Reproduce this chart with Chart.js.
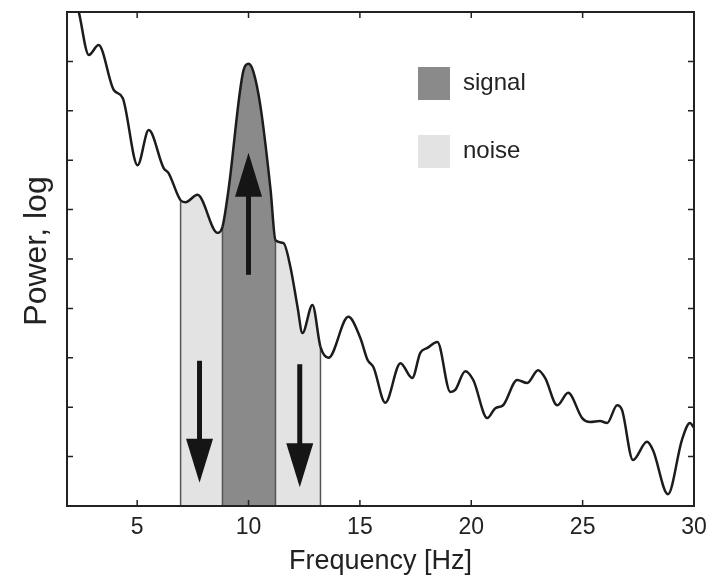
<!DOCTYPE html>
<html>
<head>
<meta charset="utf-8">
<script src="https://cdn.jsdelivr.net/npm/chart.js@4/dist/chart.umd.min.js"></script>
<style>
  html, body { margin: 0; padding: 0; background: #fff; }
  #wrap { width: 723px; height: 578px; }
</style>
</head>
<body>
<div id="wrap"><canvas id="psd" width="723" height="578"></canvas></div>
<script>
// spectrum (x in Hz, y in axis units 0..10, log power)
const freq = [1.85, 2.38, 2.83, 3.27, 3.95, 4.35, 5.02, 5.52, 6.19, 6.41, 6.95, 7.17, 7.71, 8.61, 8.83,
  9.10, 9.78, 10.0, 10.22, 10.54, 10.99, 11.21, 11.57, 11.88, 12.20, 12.42, 12.87, 13.23, 13.59,
  14.48, 15.02, 15.34, 15.61, 16.14, 16.82, 17.35, 17.71, 18.03, 18.48, 19.06, 19.28, 19.73, 20.09,
  20.72, 21.08, 21.43, 22.06, 22.51, 23.00, 23.32, 23.86, 24.35, 24.98, 25.34, 25.78, 26.10, 26.55,
  26.77, 27.26, 27.89, 28.16, 28.83, 29.46, 29.82, 30.0];
const power = [10.9, 10.0, 9.13, 9.33, 8.42, 8.26, 6.90, 7.61, 6.84, 6.74, 6.19, 6.15, 6.30, 5.53, 5.65,
  6.40, 8.83, 8.95, 8.79, 8.08, 6.40, 5.38, 5.32, 4.84, 4.03, 3.50, 4.07, 3.22, 3.00,
  3.83, 3.40, 2.96, 2.81, 2.09, 2.89, 2.59, 3.10, 3.20, 3.32, 2.31, 2.35, 2.73, 2.55,
  1.78, 1.98, 2.04, 2.55, 2.49, 2.75, 2.59, 2.04, 2.29, 1.78, 1.70, 1.72, 1.68, 2.04,
  1.94, 0.93, 1.30, 1.13, 0.24, 1.34, 1.68, 1.58];

const signalBand = [8.83, 11.21];
const noiseBands = [[6.95, 8.83], [11.21, 13.23]];
const xTicks = [5, 10, 15, 20, 25, 30];
const powerTicks = [1, 2, 3, 4, 5, 6, 7, 8, 9];
const legendLabels = ['signal', 'noise'];
const yTitle = 'Power, log';

// arrows: x position (Hz), tail and tip (axis units)
const arrowX = [7.8, 12.3, 10.0];
const arrowFrom = [2.94, 2.87, 4.68];
const arrowTo = [0.47, 0.38, 7.15];

const SIGNAL_COL = '#8a8a8a';
const NOISE_COL = '#e3e3e3';
const INK = '#1c1c1c';
const FONT = '"Liberation Sans", Arial, Helvetica, sans-serif';

function inRange(x, r) { return x >= r[0] && x <= r[1]; }
function bandColor(x) {
  if (inRange(x, signalBand)) return SIGNAL_COL;
  if (noiseBands.some(b => inRange(x, b))) return NOISE_COL;
  return 'rgba(0,0,0,0)';
}

const pts = freq.map((x, i) => ({ x: x, y: power[i] }));

// vertical edges of the shaded bands
const edges = [noiseBands[0][0], signalBand[0], signalBand[1], noiseBands[1][1]];
const edgeSets = edges.map(e => ({
  data: [{ x: e, y: 0 }, { x: e, y: power[freq.indexOf(e)] }],
  borderColor: '#555',
  borderWidth: 1.5,
  pointRadius: 0,
  fill: false,
  tension: 0
}));

// frame with inward ticks + rotated y title
const framePlugin = {
  id: 'frame',
  afterDraw(chart) {
    const { ctx, chartArea: a, scales } = chart;
    ctx.save();
    ctx.strokeStyle = '#222';
    ctx.lineWidth = 1.5;
    ctx.beginPath();
    xTicks.forEach(v => {
      const x = scales.x.getPixelForValue(v);
      ctx.moveTo(x, a.bottom); ctx.lineTo(x, a.bottom - 6);
      ctx.moveTo(x, a.top); ctx.lineTo(x, a.top + 6);
    });
    powerTicks.forEach(v => {
      const y = scales.y.getPixelForValue(v);
      ctx.moveTo(a.left, y); ctx.lineTo(a.left + 6, y);
      ctx.moveTo(a.right, y); ctx.lineTo(a.right - 6, y);
    });
    ctx.stroke();
    ctx.lineWidth = 2;
    ctx.strokeRect(a.left, a.top, a.right - a.left, a.bottom - a.top);

    ctx.translate(a.left - 30, (a.top + a.bottom) / 2 - 8);
    ctx.rotate(-Math.PI / 2);
    ctx.font = '32px ' + FONT;
    ctx.fillStyle = '#222';
    ctx.textAlign = 'center';
    ctx.textBaseline = 'middle';
    ctx.fillText(yTitle, 0, 0);
    ctx.restore();
  }
};

// arrows
const arrowPlugin = {
  id: 'arrows',
  afterDatasetsDraw(chart) {
    const { ctx, scales } = chart;
    ctx.save();
    ctx.fillStyle = '#151515';
    ctx.strokeStyle = '#151515';
    arrowX.forEach((ax, i) => {
      const x = scales.x.getPixelForValue(ax);
      const y0 = scales.y.getPixelForValue(arrowFrom[i]);
      const y1 = scales.y.getPixelForValue(arrowTo[i]);
      const dir = y1 > y0 ? 1 : -1;
      const headLen = 44, headW = 13.5;
      const yb = y1 - dir * headLen;
      ctx.lineWidth = 5;
      ctx.beginPath();
      ctx.moveTo(x, y0);
      ctx.lineTo(x, yb + dir * 2);
      ctx.stroke();
      ctx.beginPath();
      ctx.moveTo(x - headW, yb);
      ctx.lineTo(x + headW, yb);
      ctx.lineTo(x, y1);
      ctx.closePath();
      ctx.fill();
    });
    ctx.restore();
  }
};

// legend drawn inside the plot
const legendPlugin = {
  id: 'boxLegend',
  afterDraw(chart) {
    const { ctx, chartArea: a } = chart;
    const cols = [SIGNAL_COL, NOISE_COL];
    ctx.save();
    ctx.font = '24px ' + FONT;
    ctx.textBaseline = 'middle';
    ctx.textAlign = 'left';
    legendLabels.forEach((lab, i) => {
      const bx = a.right - 276, by = a.top + 55 + i * 68;
      ctx.fillStyle = cols[i];
      ctx.fillRect(bx, by, 32, 33);
      ctx.fillStyle = '#222';
      ctx.fillText(lab, bx + 45, by + 16);
    });
    ctx.restore();
  }
};

new Chart(document.getElementById('psd'), {
  type: 'line',
  data: {
    datasets: [
      {
        data: pts,
        borderColor: INK,
        borderWidth: 2.5,
        pointRadius: 0,
        cubicInterpolationMode: 'monotone',
        fill: 'origin',
        backgroundColor: 'rgba(0,0,0,0)',
        segment: {
          backgroundColor: c => bandColor((c.p0.parsed.x + c.p1.parsed.x) / 2)
        }
      },
      ...edgeSets
    ]
  },
  options: {
    responsive: false,
    animation: false,
    layout: { padding: { top: 12, right: 29, left: 0, bottom: 0 } },
    plugins: {
      legend: { display: false },
      tooltip: { enabled: false },
      filler: { drawTime: 'beforeDatasetsDraw' }
    },
    scales: {
      x: {
        type: 'linear',
        min: 1.85,
        max: 30,
        afterBuildTicks: s => { s.ticks = xTicks.map(v => ({ value: v })); },
        afterFit: s => { s.height = 72; },
        grid: { display: false },
        border: { display: false },
        ticks: { color: '#222', font: { family: FONT, size: 23 }, padding: 0, maxRotation: 0 },
        title: {
          display: true,
          text: 'Frequency [Hz]',
          color: '#222',
          font: { family: FONT, size: 27 },
          padding: { top: 0, bottom: 0 }
        }
      },
      y: {
        min: 0,
        max: 10,
        afterFit: s => { s.width = 67; },
        grid: { display: false },
        border: { display: false },
        ticks: { display: false }
      }
    }
  },
  plugins: [framePlugin, arrowPlugin, legendPlugin]
});
</script>
</body>
</html>
